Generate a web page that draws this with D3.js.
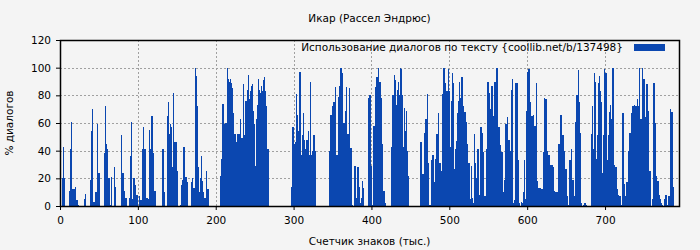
<!DOCTYPE html>
<html>
<head>
<meta charset="utf-8">
<script src="https://cdn.jsdelivr.net/npm/d3@7"></script>
<style>
  body { margin: 0; background: #f4f4f4; }
  svg { display: block; font-family: "DejaVu Sans", sans-serif; }
</style>
</head>
<body>
<div id="chart"></div>
<script>
// % of dialogue per thousand characters (index = thousands of characters)
var values = [
    0, 0, 20, 20, 43, 20, 0, 0, 0, 0,
    0, 11, 11, 41, 61, 56, 12, 12, 12, 14,
    8, 4, 4, 1, 1, 0, 0, 0, 0, 0,
    0, 5, 9, 9, 0, 0, 0, 0, 19, 19,
    54, 70, 42, 3, 3, 10, 10, 69, 59, 24,
    24, 0, 0, 0, 0, 0, 25, 38, 72, 45,
    41, 41, 20, 20, 1, 42, 21, 0, 0, 28,
    14, 14, 0, 0, 0, 0, 0, 0, 51, 49,
    24, 24, 11, 13, 6, 6, 0, 0, 0, 6,
    36, 61, 35, 5, 20, 20, 15, 40, 8, 8,
    0, 4, 7, 4, 4, 41, 84, 57, 41, 41,
    40, 6, 6, 5, 55, 100, 41, 65, 65, 73,
    38, 11, 11, 0, 0, 0, 0, 0, 0, 0,
    0, 41, 41, 82, 10, 0, 0, 28, 65, 75,
    52, 59, 59, 57, 28, 82, 48, 46, 46, 46,
    25, 25, 0, 0, 1, 30, 15, 19, 43, 43,
    51, 21, 21, 17, 8, 0, 0, 0, 17, 17,
    20, 13, 13, 51, 100, 94, 72, 28, 10, 10,
    20, 36, 18, 18, 10, 6, 6, 13, 25, 12,
    12, 0, 0, 0, 0, 0, 0, 0, 0, 0,
    0, 0, 0, 0, 0, 6, 22, 34, 74, 74,
    38, 59, 60, 60, 98, 100, 92, 90, 92, 89,
    89, 85, 67, 53, 52, 52, 46, 52, 58, 52,
    52, 63, 59, 49, 49, 88, 51, 55, 76, 76,
    84, 99, 95, 77, 83, 87, 87, 88, 69, 59,
    29, 29, 63, 73, 92, 92, 84, 82, 87, 83,
    83, 91, 93, 83, 83, 72, 41, 41, 11, 0,
    0, 0, 0, 0, 0, 0, 0, 0, 0, 0,
    0, 0, 0, 0, 0, 0, 0, 0, 0, 0,
    0, 0, 0, 0, 0, 0, 0, 14, 57, 57,
    70, 45, 46, 81, 81, 66, 54, 97, 97, 80,
    37, 51, 67, 67, 48, 41, 48, 48, 95, 54,
    37, 90, 90, 37, 40, 51, 51, 36, 40, 0,
    0, 0, 0, 0, 0, 0, 0, 0, 0, 0,
    0, 0, 0, 0, 0, 7, 40, 66, 66, 72,
    67, 75, 75, 86, 72, 37, 37, 79, 87, 84,
    100, 100, 96, 82, 60, 60, 69, 86, 55, 52,
    52, 85, 60, 42, 42, 1, 0, 34, 29, 29,
    6, 14, 28, 28, 14, 2, 0, 6, 18, 13,
    13, 0, 0, 0, 0, 0, 78, 80, 80, 65,
    29, 1, 58, 58, 48, 86, 93, 93, 98, 100,
    90, 90, 78, 67, 45, 11, 11, 4, 2, 0,
    0, 0, 0, 0, 0, 43, 80, 80, 80, 95,
    91, 91, 73, 84, 90, 90, 80, 100, 99, 80,
    80, 43, 71, 54, 54, 69, 40, 22, 0, 0,
    0, 0, 0, 0, 0, 0, 0, 0, 0, 0,
    0, 0, 7, 46, 46, 23, 23, 23, 53, 63,
    63, 81, 46, 31, 1, 1, 30, 33, 37, 37,
    17, 25, 34, 52, 52, 60, 67, 31, 31, 25,
    12, 81, 100, 100, 89, 89, 83, 83, 99, 96,
    83, 43, 76, 76, 96, 89, 27, 41, 41, 47,
    67, 76, 76, 90, 78, 93, 93, 80, 72, 68,
    68, 41, 61, 45, 31, 31, 10, 5, 29, 6,
    6, 2, 52, 31, 20, 29, 41, 41, 8, 41,
    57, 57, 53, 39, 5, 7, 7, 41, 72, 90,
    90, 82, 70, 98, 87, 87, 65, 63, 90, 90,
    100, 100, 96, 57, 57, 44, 39, 39, 39, 10,
    19, 10, 59, 59, 64, 86, 48, 48, 40, 84,
    92, 92, 2, 4, 82, 89, 89, 89, 33, 2,
    2, 0, 3, 2, 2, 10, 33, 5, 49, 69,
    97, 99, 99, 92, 75, 65, 65, 77, 66, 58,
    58, 89, 29, 18, 13, 13, 20, 13, 12, 12,
    39, 34, 78, 77, 77, 40, 40, 37, 37, 30,
    22, 30, 30, 28, 22, 11, 10, 10, 10, 25,
    45, 45, 66, 80, 66, 51, 51, 40, 34, 27,
    27, 7, 0, 1, 33, 33, 41, 40, 19, 19,
    7, 4, 61, 80, 80, 98, 75, 75, 53, 2,
    2, 0, 1, 2, 2, 1, 1, 0, 0, 0,
    0, 0, 52, 72, 72, 41, 96, 90, 90, 34,
    51, 89, 94, 94, 83, 75, 24, 24, 51, 99,
    96, 96, 80, 33, 51, 68, 68, 73, 63, 100,
    100, 57, 30, 28, 28, 17, 12, 8, 7, 7,
    3, 1, 67, 67, 51, 16, 7, 17, 17, 33,
    40, 53, 53, 67, 71, 72, 72, 73, 78, 72,
    72, 77, 72, 72, 100, 63, 63, 94, 100, 92,
    92, 64, 80, 88, 88, 69, 69, 25, 25, 0,
    5, 41, 89, 89, 60, 12, 22, 18, 18, 8,
    8, 5, 2, 1, 1, 0, 5, 8, 8, 4,
    1, 7, 7, 43, 70, 68, 68, 14
];
var xTicks = [0, 100, 200, 300, 400, 500, 600, 700];
var yTicks = [0, 20, 40, 60, 80, 100, 120];
var xMax = 795;

var titleText = "Икар (Рассел Эндрюс)";
var xLabelText = "Счетчик знаков (тыс.)";
var yLabelText = "% диалогов";
var legendText = "Использование диалогов по тексту {coollib.net/b/137498}";

function drawChart() {
    var margin = { top: 40, right: 21, bottom: 44, left: 60 },
        width = 700 - margin.left - margin.right,
        height = 250 - margin.top - margin.bottom;
    var barColor = "#0b47b0";
    var fontSize = 10.5;

    var root = d3.select("#chart")
        .append("svg")
        .attr("width", 700)
        .attr("height", 250);

    root.append("rect")
        .attr("width", 700)
        .attr("height", 250)
        .attr("fill", "#f4f4f4");

    var svg = root.append("g")
        .attr("transform", "translate(" + margin.left + "," + margin.top + ")");

    var x = d3.scaleLinear().domain([0, xMax]).range([0, width]);
    var y = d3.scaleLinear().domain([0, 120]).range([height, 0]);

    // grid
    svg.append("g")
        .selectAll("line")
        .data(yTicks.slice(1, -1))
        .enter()
        .append("line")
        .attr("x1", 0)
        .attr("x2", width)
        .attr("y1", function (d) { return Math.round(y(d)) + 0.5; })
        .attr("y2", function (d) { return Math.round(y(d)) + 0.5; })
        .attr("stroke", "#a0a0a0")
        .attr("stroke-dasharray", "2,2");
    svg.append("g")
        .selectAll("line")
        .data(xTicks.slice(1))
        .enter()
        .append("line")
        .attr("y1", 0)
        .attr("y2", height)
        .attr("x1", function (d) { return Math.round(x(d)) + 0.5; })
        .attr("x2", function (d) { return Math.round(x(d)) + 0.5; })
        .attr("stroke", "#a0a0a0")
        .attr("stroke-dasharray", "2,2");

    // bars
    svg.append("g")
        .selectAll("rect")
        .data(values)
        .enter()
        .append("rect")
        .attr("x", function (d, i) { return x(i); })
        .attr("width", function (d, i) { return x(i + 1) - x(i); })
        .attr("y", function (d) { return y(d); })
        .attr("height", function (d) { return height - y(d); })
        .attr("fill", barColor)
        .attr("shape-rendering", "crispEdges");

    // axes
    var xAxis = svg.append("g")
        .attr("transform", "translate(0," + height + ")")
        .call(d3.axisBottom(x).tickValues(xTicks).tickSize(4).tickPadding(7));
    var yAxis = svg.append("g")
        .call(d3.axisLeft(y).tickValues(yTicks).tickSize(4).tickPadding(5));
    [xAxis, yAxis].forEach(function (a) {
        a.select(".domain").remove();
        a.selectAll("text").attr("font-size", fontSize).attr("fill", "#000")
            .attr("font-family", "DejaVu Sans, sans-serif");
        a.selectAll("line").attr("stroke", "#000");
    });

    // frame
    svg.append("rect")
        .attr("x", 0.5)
        .attr("y", 0.5)
        .attr("width", width)
        .attr("height", height)
        .attr("fill", "none")
        .attr("stroke", "#000")
        .attr("stroke-width", 1.5);

    // legend
    svg.append("text")
        .attr("x", 563)
        .attr("y", 11)
        .attr("text-anchor", "end")
        .attr("font-size", fontSize)
        .text(legendText);
    svg.append("rect")
        .attr("x", 574)
        .attr("y", 4)
        .attr("width", 31)
        .attr("height", 7)
        .attr("fill", barColor);

    // labels
    root.append("text")
        .attr("x", margin.left + width / 2)
        .attr("y", 22)
        .attr("text-anchor", "middle")
        .attr("font-size", fontSize)
        .text(titleText);
    root.append("text")
        .attr("x", margin.left + width / 2)
        .attr("y", 245)
        .attr("text-anchor", "middle")
        .attr("font-size", fontSize)
        .text(xLabelText);
    root.append("text")
        .attr("transform", "translate(13," + (margin.top + height / 2) + ") rotate(-90)")
        .attr("text-anchor", "middle")
        .attr("font-size", fontSize)
        .text(yLabelText);
}

drawChart();
</script>
</body>
</html>
